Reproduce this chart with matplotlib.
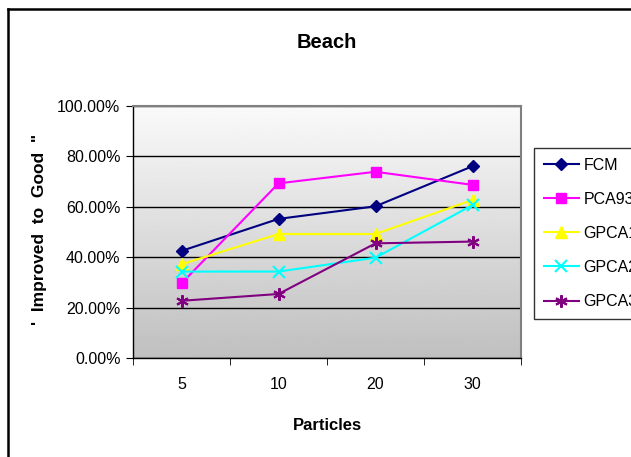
import numpy as np
import matplotlib
matplotlib.use("Agg")
import matplotlib.pyplot as plt
from matplotlib.lines import Line2D
from matplotlib.ticker import FuncFormatter

plt.rcParams['font.family'] = ['Liberation Sans', 'DejaVu Sans']

particles = ['5', '10', '20', '30']
fcm = [42.5, 55.2, 60.2, 76.1]
pca93 = [29.6, 69.3, 73.9, 68.7]
gpca1 = [37.2, 49.2, 49.2, 62.7]
gpca2 = [34.3, 34.3, 39.8, 60.7]
gpca3 = [22.7, 25.4, 45.5, 46.2]

series = [
    ('FCM', fcm, '#000080', 'D', 6),
    ('PCA93', pca93, '#FF00FF', 's', 7),
    ('GPCA1', gpca1, '#FFFF00', '^', 8),
    ('GPCA2', gpca2, '#00FFFF', 'x', 8),
    ('GPCA3', gpca3, '#800080', (6, 2, 0), 9),
]

fig = plt.figure(figsize=(6.31, 4.57), dpi=100)
ax = fig.add_axes([133 / 631, 99 / 457, 388 / 631, 252 / 457])

# gradient background of the plot area
grad = np.linspace(0.98, 0.75, 256).reshape(-1, 1)
ax.imshow(grad, cmap='gray', vmin=0, vmax=1, aspect='auto',
          extent=(-0.5, 3.5, 0, 100), origin='upper', zorder=0)

x = np.arange(len(particles))
for name, vals, col, mk, ms in series:
    ax.plot(x, vals, color=col, marker=mk, markersize=ms, lw=1.5,
            markeredgewidth=1.5 if mk in ('x', (6, 2, 0)) else 1,
            label=name, zorder=3)

ax.set_xlim(-0.5, 3.5)
ax.set_ylim(0, 100)
ax.set_yticks(np.arange(0, 101, 20))
ax.yaxis.set_major_formatter(FuncFormatter(lambda v, p: f"{v:.2f}%"))
ax.yaxis.grid(True, color='black', lw=1, zorder=1)
ax.set_axisbelow(True)

ax.set_xticks(x)
ax.set_xticklabels(particles)
ax.set_xticks(np.arange(-0.5, 4, 1), minor=True)
ax.tick_params(axis='x', which='major', length=0, pad=14, labelsize=11.5)
ax.tick_params(axis='x', which='minor', length=5, direction='out')
ax.tick_params(axis='y', length=5, direction='out', labelsize=11.5, pad=4)

for s in ('top', 'right'):
    ax.spines[s].set_color('#808080')
    ax.spines[s].set_linewidth(1.5)
for s in ('left', 'bottom'):
    ax.spines[s].set_color('black')
    ax.spines[s].set_linewidth(1)

fig.text(327 / 631, 1 - 43 / 457, 'Beach', fontsize=14.5, fontweight='bold',
         ha='center', va='center')
fig.text(327 / 631, 1 - 425 / 457, 'Particles', fontsize=12, fontweight='bold',
         ha='center', va='center')
fig.text(40 / 631, 1 - 229 / 457, "'  Improved  to  Good  \"", fontsize=12.5,
         fontweight='bold', ha='center', va='center', rotation=90)

leg = fig.legend(loc='upper left', bbox_to_anchor=(534 / 631, 1 - 148 / 457),
                 frameon=True, fancybox=False, edgecolor='black',
                 fontsize=11.5, labelspacing=1.2, handlelength=2.2,
                 handletextpad=0.3, borderpad=0.6, borderaxespad=0)
leg.get_frame().set_linewidth(1)

# outer chart border (left and top visible)
fig.add_artist(Line2D([8 / 631, 8 / 631], [0, 1 - 9 / 457], color='black', lw=1.8))
fig.add_artist(Line2D([8 / 631, 1], [1 - 9 / 457, 1 - 9 / 457], color='black', lw=1.8))

fig.savefig('out.png', dpi=100)
